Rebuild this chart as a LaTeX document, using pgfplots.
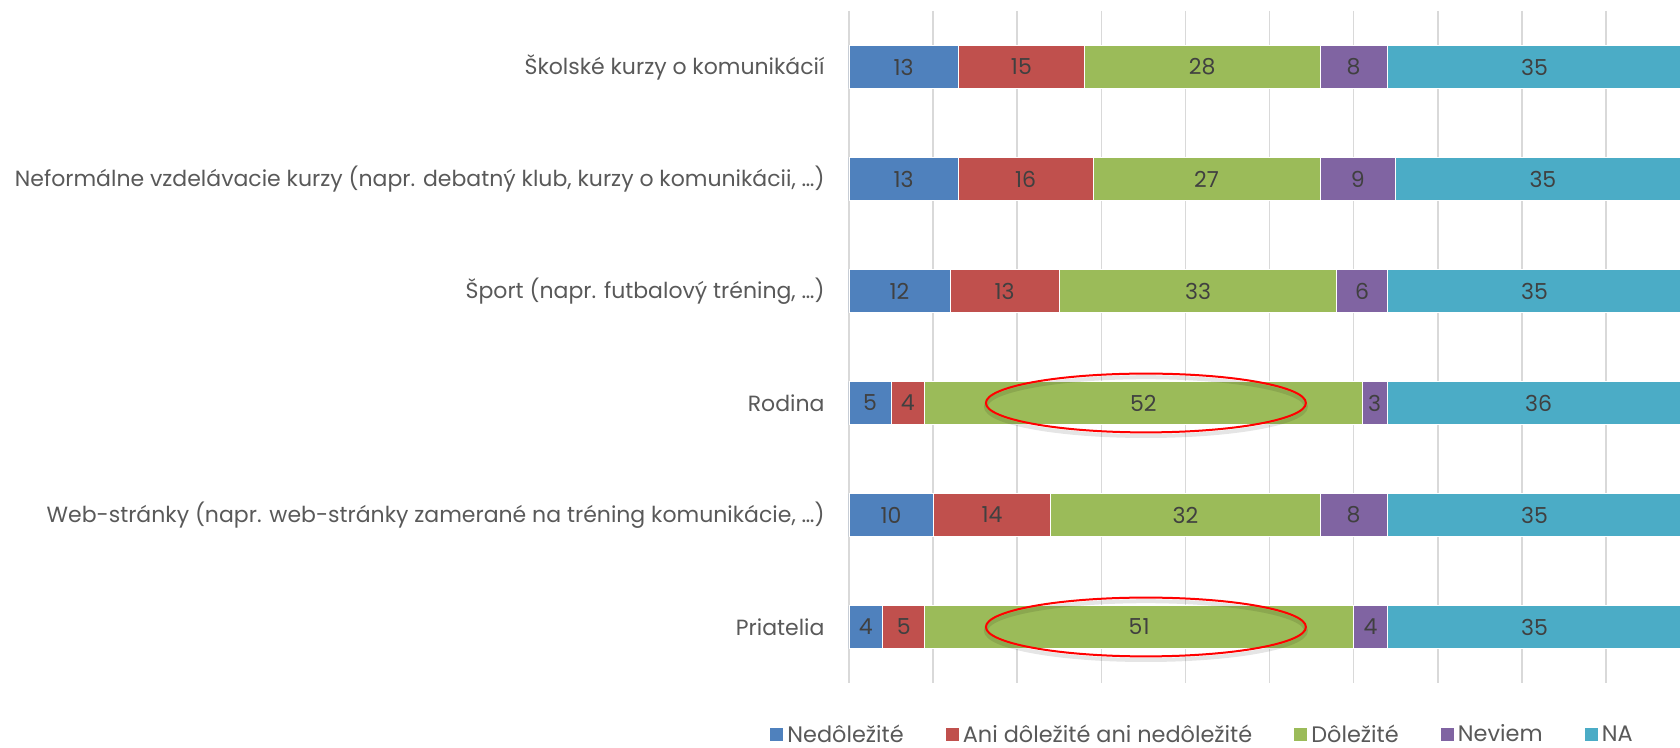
\documentclass[border=0pt]{standalone}
\usepackage{fontspec}
\setmainfont{Poppins}
\usepackage{pgfplots}
\pgfplotsset{compat=1.18}

\definecolor{cBlue}{HTML}{4F81BD}
\definecolor{cRed}{HTML}{C0504D}
\definecolor{cGreen}{HTML}{9BBB59}
\definecolor{cPurple}{HTML}{8064A2}
\definecolor{cAqua}{HTML}{4BACC6}
\definecolor{gridgray}{HTML}{D9D9D9}
\definecolor{labelgray}{HTML}{595959}
\definecolor{datagray}{HTML}{404040}

\begin{document}
\begin{tikzpicture}
% the reference is cut off at the right edge, just before 100 %
\path[use as bounding box] (-424.5pt,-32.5pt) rectangle (415.5pt,341.5pt);
\begin{axis}[
    scale only axis,
    width=420.55pt, height=336pt,
    xbar stacked,
    bar width=21.5pt,
    xmin=0, xmax=100,
    ymin=-0.5, ymax=5.5,
    y dir=reverse,
    ytick={0,1,2,3,4,5},
    yticklabels={Školské kurzy o komunikácií\ ,
      {Neformálne vzdelávacie kurzy (napr. debatný klub, kurzy o komunikácii, \ldots)},
      {Šport (napr. futbalový tréning, \ldots)},
      Rodina,
      {Web-stránky (napr. web-stránky zamerané na tréning komunikácie, \ldots)},
      Priatelia},
    xtick={0,10,20,30,40,50,60,70,80,90},
    xticklabels={},
    xmajorgrids,
    grid style={draw=gridgray, line width=0.8pt},
    axis line style={draw=none},
    major tick length=0pt,
    yticklabel style={font=\fontsize{11}{13}\selectfont, text=labelgray, xshift=-8.7pt},
    visualization depends on={rawx \as \rawx},
    nodes near coords={\pgfmathprintnumber[assume math mode=true]{\rawx}},
    nodes near coords align={center},
    every node near coord/.append style={font=\fontsize{11}{13}\selectfont, text=datagray},
    legend columns=5,
    legend style={at={(0.4214,-0.077)}, anchor=center, draw=none,
      font=\fontsize{11.2}{13}\selectfont, text=labelgray,
      /tikz/every even column/.append style={column sep=19pt}},
    legend image code/.code={\path[#1,draw=none] (0pt,-3.3pt) rectangle (6.6pt,3.3pt);},
]
\addplot[fill=cBlue, draw=white, line width=0.4pt] coordinates {(13,0) (13,1) (12,2) (5,3) (10,4) (4,5)};
\addplot[fill=cRed, draw=white, line width=0.4pt] coordinates {(15,0) (16,1) (13,2) (4,3) (14,4) (5,5)};
\addplot[fill=cGreen, draw=white, line width=0.4pt] coordinates {(28,0) (27,1) (33,2) (52,3) (32,4) (51,5)};
\addplot[fill=cPurple, draw=white, line width=0.4pt] coordinates {(8,0) (9,1) (6,2) (3,3) (8,4) (4,5)};
\addplot[fill=cAqua, draw=white, line width=0.4pt] coordinates {(35,0) (35,1) (35,2) (36,3) (35,4) (35,5)};
\legend{Nedôležité, Ani dôležité ani nedôležité, Dôležité, Neviem, NA}

\coordinate (hlRodina) at (axis cs:35.3,3);
\coordinate (hlPriatelia) at (axis cs:35.3,5);
\end{axis}

% highlighted values, drawn on top of the bars
\foreach \c in {hlRodina,hlPriatelia}{
  \draw[black, opacity=0.1, line width=2pt] ([yshift=-1.8pt]\c) ellipse [x radius=80pt, y radius=14.7pt];
  \draw[red, line width=1pt] (\c) ellipse [x radius=80pt, y radius=14.7pt];
}
\end{tikzpicture}
\end{document}
